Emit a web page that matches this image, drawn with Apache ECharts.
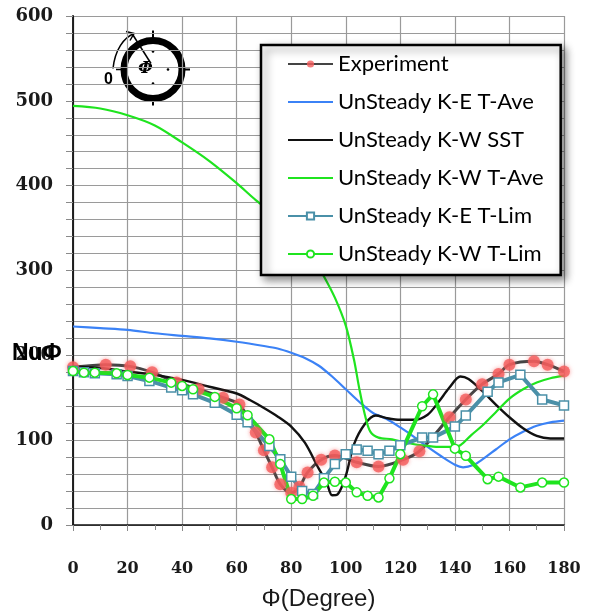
<!DOCTYPE html>
<html>
<head>
<meta charset="utf-8">
<script src="https://cdn.jsdelivr.net/npm/echarts@6/dist/echarts.min.js"></script>
<style>
  html, body { margin: 0; padding: 0; background: #fff; }
  #chart { width: 598px; height: 616px; }
</style>
</head>
<body>
<div id="chart"></div>
<script>
// Local Nusselt number around the cylinder, Nu_phi vs angle phi (degrees)
const seriesNames = [
  'Experiment',
  'UnSteady K-E T-Ave',
  'UnSteady K-W SST',
  'UnSteady K-W T-Ave',
  'UnSteady K-E T-Lim',
  'UnSteady K-W T-Lim'
];

const expDeg = [0, 12, 21, 29, 38, 46, 55, 61, 67, 70, 73, 76, 80, 83, 86, 91, 96, 104, 112, 121, 127, 138, 144, 150, 156, 160, 169, 174, 180];
const expNu  = [186, 189, 187, 180, 168, 160, 150, 142, 109, 88, 68, 48, 38, 45, 62, 77, 82, 74, 69, 77, 87, 127, 148, 166, 178, 189, 193, 189, 181];

const keAveDeg = [0, 10, 20, 30, 40, 50, 60, 70, 75, 80, 85, 90, 95, 100, 105, 110, 115, 120, 125, 130, 135, 140, 143, 147, 150, 155, 160, 165, 170, 175, 180];
const keAveNu  = [234, 232, 230, 226, 223, 220, 216, 211, 208, 203, 197, 188, 175, 160, 145, 132, 125, 115, 104, 92, 81, 71, 68, 71, 77, 89, 101, 110, 117, 121, 123];

const sstDeg = [0, 10, 20, 30, 40, 50, 60, 65, 70, 75, 80, 85, 90, 93, 95, 97, 100, 103, 107, 111, 115, 120, 125, 130, 134, 138, 142, 145, 150, 155, 160, 165, 170, 175, 180];
const sstNu  = [187, 185, 181, 177, 171, 163, 155, 147, 138, 128, 116, 97, 67, 50, 35, 36, 58, 95, 119, 129, 126, 124, 124, 130, 145, 162, 175, 172, 158, 142, 127, 114, 105, 102, 102];

const kwAveDeg = [0, 10, 20, 30, 40, 50, 60, 67, 75, 82, 88, 92, 96, 100, 103, 105, 107, 109, 112, 117, 122, 128, 134, 139, 142, 146, 150, 155, 160, 165, 170, 175, 180];
const kwAveNu  = [494, 491, 483, 471, 451, 429, 403, 383, 363, 340, 315, 293, 268, 235, 195, 160, 130, 110, 103, 101, 97, 94, 92, 92, 94, 106, 117, 133, 149, 160, 168, 173, 176];

// both limiter runs share the same sampling angles
const limDeg  = [0, 4, 8, 16, 20, 28, 36, 40, 44, 52, 60, 64, 72, 76, 80, 84, 88, 92, 96, 100, 104, 108, 112, 116, 120, 128, 132, 140, 144, 152, 156, 164, 172, 180];
const keLimNu = [181.5, 180, 179, 177.6, 175.7, 169.8, 162, 158.8, 154, 144, 130, 121, 93, 77.6, 57, 40, 36.5, 55, 72, 83.5, 89, 87.4, 83.5, 87.4, 94, 103, 103, 116, 129, 157, 168, 177, 148, 141];
const kwLimNu = [181.5, 179.6, 179.6, 178.8, 176.8, 173.7, 167.8, 163.9, 160, 151, 137.6, 129.4, 101, 71.8, 30.6, 30.6, 34.5, 50, 51, 50, 38.5, 34.5, 32.5, 55, 83.5, 140, 154, 90, 81.6, 54, 57, 44.3, 50, 50];

const xTicks = { min: 0, max: 180, step: 20 };
const yTicks = { min: 0, max: 600, step: 20, labelEvery: 100 };

const zip = (xs, ys) => xs.map((x, i) => [x, ys[i]]);

const chart = echarts.init(document.getElementById('chart'), null, { renderer: 'canvas' });

const axisFont = { fontFamily: 'DejaVu Serif', fontWeight: 'bold', color: '#1a1a1a' };
const green = '#1fe41f';

// plain-line series show only their stroke in the legend
const lineOnly = name => ({ name, itemStyle: { opacity: 0 } });

chart.setOption({
  animation: false,
  backgroundColor: '#ffffff',
  grid: { left: 73, right: 34, top: 16, bottom: 90, containLabel: false },
  xAxis: [{
    type: 'value',
    min: xTicks.min, max: xTicks.max, interval: xTicks.step,
    name: '\u03a6(Degree)',
    nameLocation: 'middle',
    nameGap: 62,
    nameTextStyle: { fontFamily: 'Liberation Sans', fontSize: 24, color: '#1a1a1a' },
    axisLine: { lineStyle: { color: '#8a8a8a', width: 1.2 } },
    axisTick: { show: true, length: 6, lineStyle: { color: '#8a8a8a' } },
    minorTick: { show: true, splitNumber: 2, length: 5, lineStyle: { color: '#8a8a8a' } },
    axisLabel: { ...axisFont, fontSize: 16, margin: 36 },
    splitLine: { show: true, lineStyle: { color: '#9a9a9a', width: 1.2 } }
  }, {
    type: 'value', position: 'top',
    min: xTicks.min, max: xTicks.max, interval: xTicks.step,
    axisLine: { show: true, lineStyle: { color: '#111', width: 1.6 } },
    axisTick: { show: false }, axisLabel: { show: false }, splitLine: { show: false }
  }],
  yAxis: [{
    type: 'value',
    min: yTicks.min, max: yTicks.max, interval: yTicks.step,
    axisLine: { show: true, lineStyle: { color: '#8a8a8a', width: 1.2 } },
    axisTick: { show: true, length: 7, lineStyle: { color: '#8a8a8a' } },
    axisLabel: {
      ...axisFont, fontSize: 18, margin: 20,
      formatter: v => (v % yTicks.labelEvery === 0 ? String(v) : '')
    },
    splitLine: { show: true, lineStyle: { color: '#9a9a9a', width: 1.2 } }
  }, {
    type: 'value', position: 'right',
    min: yTicks.min, max: yTicks.max, interval: yTicks.step,
    axisLine: { show: true, lineStyle: { color: '#111', width: 1.8 } },
    axisTick: { show: false }, axisLabel: { show: false }, splitLine: { show: false }
  }],
  legend: {
    orient: 'vertical',
    left: 261, top: 45,
    padding: [8, 17, 10, 26],
    itemGap: 16,
    itemWidth: 45,
    itemHeight: 9,
    backgroundColor: '#ffffff',
    borderColor: '#000000',
    borderWidth: 2.5,
    shadowBlur: 8,
    shadowOffsetX: 4,
    shadowOffsetY: 4,
    shadowColor: 'rgba(0,0,0,0.45)',
    textStyle: { fontFamily: 'Lato', fontSize: 22, color: '#000000' },
    data: [
      seriesNames[0],
      lineOnly(seriesNames[1]),
      lineOnly(seriesNames[2]),
      lineOnly(seriesNames[3]),
      seriesNames[4],
      seriesNames[5]
    ]
  },
  series: [
    {
      name: seriesNames[0], type: 'line', data: zip(expDeg, expNu),
      smooth: 0.3,
      symbol: 'circle', symbolSize: 12,
      lineStyle: { color: '#444444', width: 3 },
      itemStyle: { color: 'rgba(244,92,92,0.8)', shadowBlur: 4, shadowColor: 'rgba(244,92,92,0.7)' }
    },
    {
      name: seriesNames[1], type: 'line', data: zip(keAveDeg, keAveNu),
      smooth: 0.3, symbol: 'none',
      lineStyle: { color: '#3b82f6', width: 2.2 },
      itemStyle: { color: '#3b82f6' }
    },
    {
      name: seriesNames[2], type: 'line', data: zip(sstDeg, sstNu),
      smooth: 0.3, symbol: 'none',
      lineStyle: { color: '#111111', width: 2.4 },
      itemStyle: { color: '#111111' }
    },
    {
      name: seriesNames[3], type: 'line', data: zip(kwAveDeg, kwAveNu),
      smooth: 0.3, symbol: 'none',
      lineStyle: { color: green, width: 2.2 },
      itemStyle: { color: green }
    },
    {
      name: seriesNames[4], type: 'line', data: zip(limDeg, keLimNu),
      symbol: 'rect', symbolSize: 9,
      lineStyle: { color: '#4a90a8', width: 4 },
      itemStyle: { color: '#ffffff', borderColor: '#4a90a8', borderWidth: 1.5 }
    },
    {
      name: seriesNames[5], type: 'line', data: zip(limDeg, kwLimNu),
      symbol: 'circle', symbolSize: 9,
      lineStyle: { color: green, width: 4 },
      itemStyle: { color: '#ffffff', borderColor: green, borderWidth: 1.5 }
    }
  ],
  graphic: [
    // axis quantity label
    {
      type: 'text', left: 12, top: 342, z: 50,
      style: { text: 'Nu\u03a6', font: 'bold 23px "Liberation Sans"', fill: '#000' }
    },
    // cylinder sketch with angle convention
    {
      type: 'group', left: 104, top: 28, z: 60,
      children: [
        { type: 'circle', shape: { cx: 49, cy: 40, r: 29 }, style: { fill: 'none', stroke: '#000', lineWidth: 7 } },
        { type: 'line', shape: { x1: 49, y1: 1, x2: 49, y2: 12 }, style: { stroke: '#000', lineWidth: 2 } },
        { type: 'line', shape: { x1: 49, y1: 68, x2: 49, y2: 76 }, style: { stroke: '#000', lineWidth: 2 } },
        { type: 'line', shape: { x1: 78, y1: 40, x2: 86, y2: 40 }, style: { stroke: '#000', lineWidth: 2 } },
        { type: 'line', shape: { x1: 12, y1: 40, x2: 20, y2: 40 }, style: { stroke: '#000', lineWidth: 1.5 } },
        { type: 'circle', shape: { cx: 49, cy: 22, r: 1.3 }, style: { fill: '#000' } },
        { type: 'circle', shape: { cx: 49, cy: 54, r: 1.3 }, style: { fill: '#000' } },
        { type: 'circle', shape: { cx: 64, cy: 40, r: 1.3 }, style: { fill: '#000' } },
        { type: 'line', shape: { x1: 28, y1: 4, x2: 47, y2: 34 }, style: { stroke: '#000', lineWidth: 1.5 } },
        { type: 'bezierCurve', shape: { x1: 9, y1: 39, x2: 30, y2: 4, cpx1: 11, cpy1: 20, cpx2: 20, cpy2: 8 }, style: { stroke: '#000', lineWidth: 1.5, fill: 'none' } },
        { type: 'polyline', shape: { points: [[22, 2], [30, 4], [26, 11]] }, style: { stroke: '#000', lineWidth: 1.5, fill: 'none' } },
        { type: 'text', x: 34, y: 31, style: { text: '\u03a6', font: 'italic bold 17px "DejaVu Serif"', fill: '#000' } },
        { type: 'text', x: 0, y: 42, style: { text: '0', font: 'bold 16px "Liberation Sans"', fill: '#000' } }
      ]
    }
  ]
});
</script>
</body>
</html>
